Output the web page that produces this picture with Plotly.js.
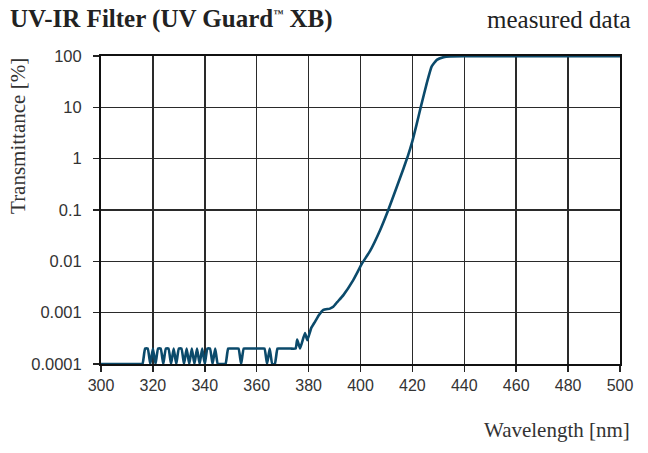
<!DOCTYPE html>
<html>
<head>
<meta charset="utf-8">
<script src="https://cdn.plot.ly/plotly-3.0.1.min.js"></script>
<style>html,body{margin:0;padding:0;background:#fff;}#chart{width:648px;height:453px;}</style>
</head>
<body>
<div id="chart"></div>
<script>
// Wavelength [nm]
const wavelength = [
  300, 305, 310, 315, 316, 317, 318, 319, 320, 321, 322, 323, 324, 325, 326, 327, 328, 329,
  330, 331, 332, 333, 334, 335, 336, 337, 338, 339, 340, 341, 342, 343, 344, 345, 346, 347,
  348, 349, 350, 351, 352, 353, 354, 355, 356, 358, 360, 362, 363, 364, 365, 366, 367, 368,
  369, 371, 373, 375, 375.6, 376.7, 378.6, 379.5, 381, 382.5, 384, 385.7, 388.2, 389.5, 391,
  393.4, 397.2, 400.5, 403.7, 407.5, 410.7, 413.9, 416.5, 418.3, 420, 421.6, 423.2, 425.5,
  427.4, 429.4, 432, 434.6, 440, 450, 460, 470, 480, 490, 500
];
// Transmittance [%]
const transmittance = [
  0.0001, 0.0001, 0.0001, 0.0001, 0.0001, 0.0002, 0.0002, 0.0001, 0.0002, 0.0001, 0.0002, 0.0002, 0.0001, 0.0002, 0.0002, 0.0001, 0.0002, 0.0001,
  0.0002, 0.0002, 0.0001, 0.0002, 0.0001, 0.0002, 0.0001, 0.0002, 0.0001, 0.0002, 0.0001, 0.0002, 0.0002, 0.0001, 0.0002, 0.0001, 0.0001, 0.0001,
  0.0001, 0.0002, 0.0002, 0.0002, 0.0002, 0.0002, 0.0001, 0.0002, 0.0002, 0.0002, 0.0002, 0.0002, 0.0002, 0.0001, 0.0002, 0.0001, 0.0001, 0.0002,
  0.0002, 0.0002, 0.0002, 0.0002, 0.0003, 0.0002, 0.0004, 0.00029, 0.0005, 0.00067, 0.0009, 0.00113, 0.0012, 0.0013, 0.0016,
  0.0022, 0.0043, 0.0089, 0.016, 0.04, 0.1, 0.275, 0.63, 1.15, 2.2, 4.6, 10, 29,
  62, 84, 95, 98, 98.6, 98.8, 98.6, 98.9, 98.7, 98.8, 98.8
];
const xTicks = [300, 320, 340, 360, 380, 400, 420, 440, 460, 480, 500];
const yTicks = [0.0001, 0.001, 0.01, 0.1, 1, 10, 100];
const yTickText = ['0.0001', '0.001', '0.01', '0.1', '1', '10', '100'];

const serif = '"Liberation Serif", "DejaVu Serif", serif';
const sans = '"Liberation Sans", Arial, sans-serif';

const trace = {
  x: wavelength, y: transmittance, type: 'scatter', mode: 'lines',
  line: {color: '#0b4a6b', width: 2.6, shape: 'spline', smoothing: 0.4},
  hoverinfo: 'x+y'
};

const layout = {
  width: 648, height: 453,
  margin: {l: 101, r: 28, t: 56, b: 89, pad: 0},
  paper_bgcolor: '#ffffff', plot_bgcolor: '#ffffff',
  showlegend: false,
  xaxis: {
    range: [300, 500], tickmode: 'array', tickvals: xTicks,
    ticks: 'outside', ticklen: 6, tickwidth: 1.5, tickcolor: '#222',
    showline: true, linecolor: '#111', linewidth: 2, mirror: true,
    showgrid: true, gridcolor: '#2a2a2a', gridwidth: 1.5, zeroline: false,
    tickfont: {family: sans, size: 16, color: '#333'},
    ticklabelstandoff: 0, layer: 'below traces', fixedrange: true
  },
  yaxis: {
    type: 'log', range: [-4, 2], tickmode: 'array', tickvals: yTicks, ticktext: yTickText,
    ticks: 'outside', ticklen: 6, tickwidth: 1.5, tickcolor: '#222',
    showline: true, linecolor: '#111', linewidth: 2, mirror: true,
    showgrid: true, gridcolor: '#2a2a2a', gridwidth: 1.5, zeroline: false,
    tickfont: {family: sans, size: 16.5, color: '#333'},
    ticklabelstandoff: 8, layer: 'below traces', fixedrange: true
  },
  annotations: [
    {text: '<b>UV-IR Filter (UV Guard<sup><span style="font-size:10px">™</span></sup> XB)</b>', xref: 'paper', yref: 'paper',
     x: -0.179, y: 1.12, xanchor: 'left', yanchor: 'middle', showarrow: false,
     font: {family: serif, size: 25, color: '#222'}},
    {text: 'measured data', xref: 'paper', yref: 'paper',
     x: 1.025, y: 1.12, xanchor: 'right', yanchor: 'middle', showarrow: false,
     font: {family: serif, size: 25, color: '#222'}},
    {text: 'Transmittance [%]', xref: 'paper', yref: 'paper', textangle: -90,
     x: -0.160, y: 1.0, xanchor: 'center', yanchor: 'top', showarrow: false,
     font: {family: serif, size: 21, color: '#333'}},
    {text: 'Wavelength [nm]', xref: 'paper', yref: 'paper',
     x: 1.023, y: -0.214, xanchor: 'right', yanchor: 'middle', showarrow: false,
     font: {family: serif, size: 21, color: '#333'}}
  ]
};

Plotly.newPlot('chart', [trace], layout, {displayModeBar: false, staticPlot: true});
</script>
</body>
</html>
